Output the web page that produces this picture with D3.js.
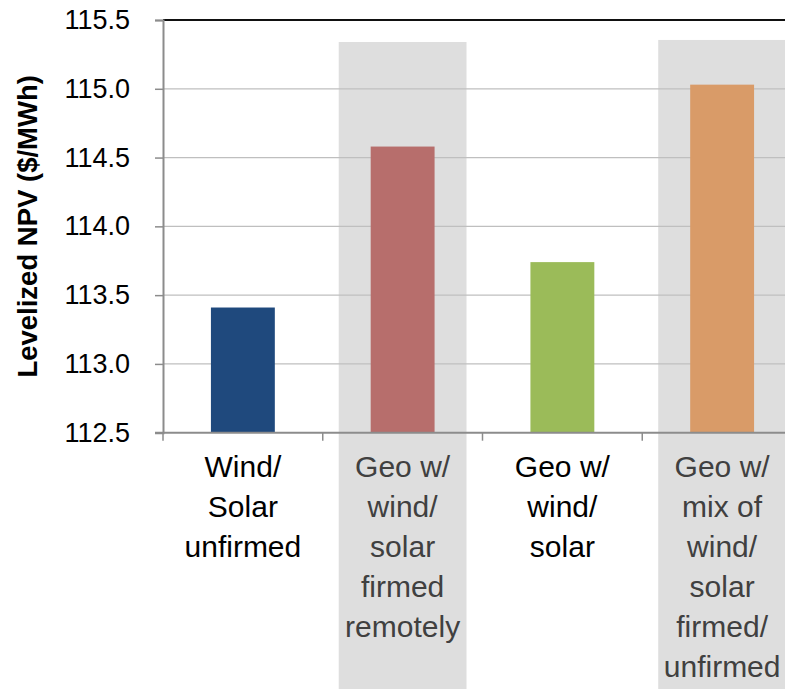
<!DOCTYPE html>
<html>
<head>
<meta charset="utf-8">
<script src="https://cdn.jsdelivr.net/npm/d3@7/dist/d3.min.js"></script>
<style>
  html, body { margin: 0; padding: 0; background: #fff; overflow: hidden; }
  svg { display: block; font-family: "Liberation Sans", Arial, sans-serif; }
</style>
</head>
<body>
<svg id="chart" width="785" height="689"></svg>
<script>
// Scenario categories, each label split into its printed lines
const categories = ["wind-solar-unfirmed", "geo-firmed-remotely", "geo-wind-solar", "geo-mix"];
const categoryLines = [
  ["Wind/", "Solar", "unfirmed"],
  ["Geo w/", "wind/", "solar", "firmed", "remotely"],
  ["Geo w/", "wind/", "solar"],
  ["Geo w/", "mix of", "wind/", "solar", "firmed/", "unfirmed"]
];
// Levelized NPV per scenario ($/MWh)
const npvValues = [113.41, 114.58, 113.74, 115.03];
const barColors = ["#1f497d", "#b76e6c", "#9bbb59", "#d99b68"];
// Shaded call-out panels behind the geothermal-firmed scenarios (top edge in $/MWh)
const highlighted = [false, true, false, true];
const highlightTops = [null, 115.34, null, 115.355];
const labelColors = ["#000000", "#404040", "#000000", "#404040"];
// Y axis ticks
const yTicks = [112.5, 113.0, 113.5, 114.0, 114.5, 115.0, 115.5];
const yTitle = "Levelized NPV ($/MWh)";

const W = 785, H = 689;
const svg = d3.select("#chart");

const x = d3.scaleBand().domain(categories).range([163, 802]).padding(0);
const y = d3.scaleLinear().domain([112.5, 115.5]).range([432.7, 20]);
const bw = x.bandwidth();

// shaded panels
svg.append("g").selectAll("rect")
  .data(categories.filter((c, i) => highlighted[i]))
  .join("rect")
  .attr("x", c => x(c) + bw * 0.1)
  .attr("width", bw * 0.8)
  .attr("y", c => y(highlightTops[categories.indexOf(c)]))
  .attr("height", c => H - y(highlightTops[categories.indexOf(c)]))
  .attr("fill", "#dedede");

// horizontal gridlines
svg.append("g").selectAll("line")
  .data(yTicks.filter(t => t > 112.5 && t < 115.5))
  .join("line")
  .attr("x1", 163).attr("x2", W)
  .attr("y1", d => y(d)).attr("y2", d => y(d))
  .attr("stroke", "#bfbfbf").attr("stroke-width", 1.2);

// bars
svg.append("g").selectAll("rect")
  .data(categories)
  .join("rect")
  .attr("x", c => x(c) + bw * 0.3)
  .attr("width", bw * 0.4)
  .attr("y", (c, i) => y(npvValues[i]))
  .attr("height", (c, i) => y(112.5) - y(npvValues[i]))
  .attr("fill", (c, i) => barColors[i]);

// top frame line
svg.append("line")
  .attr("x1", 163).attr("x2", W)
  .attr("y1", y(115.5)).attr("y2", y(115.5))
  .attr("stroke", "#111").attr("stroke-width", 2);

// left value axis
const yAxis = svg.append("g").attr("transform", "translate(163,0)")
  .call(d3.axisLeft(y).tickValues(yTicks).tickSize(8).tickPadding(25)
    .tickFormat(d3.format(".1f")));
yAxis.select(".domain").attr("stroke", "#8c8c8c").attr("stroke-width", 2);
yAxis.selectAll(".tick line").attr("stroke", "#8c8c8c").attr("stroke-width", 1.5);
yAxis.selectAll(".tick text")
  .attr("font-size", 27).attr("fill", "#000")
  .attr("font-family", "'Liberation Sans', Arial, sans-serif");

// bottom category axis with ticks at band boundaries
const bottom = svg.append("g");
bottom.append("line")
  .attr("x1", 155).attr("x2", W)
  .attr("y1", y(112.5)).attr("y2", y(112.5))
  .attr("stroke", "#8c8c8c").attr("stroke-width", 2);
bottom.selectAll("line.tk")
  .data(categories)
  .join("line").attr("class", "tk")
  .attr("x1", c => x(c)).attr("x2", c => x(c))
  .attr("y1", y(112.5)).attr("y2", y(112.5) + 8)
  .attr("stroke", "#8c8c8c").attr("stroke-width", 1.5);

// category labels
const labels = svg.append("g")
  .attr("font-size", 30)
  .attr("text-anchor", "middle");
categories.forEach((c, i) => {
  const t = labels.append("text")
    .attr("x", x(c) + bw / 2)
    .attr("y", 477)
    .attr("fill", labelColors[i]);
  categoryLines[i].forEach((line, j) => {
    t.append("tspan")
      .attr("x", x(c) + bw / 2)
      .attr("y", 477 + j * 40)
      .text(line);
  });
});

// y axis title
svg.append("text")
  .attr("transform", `translate(37,${(y(115.5) + y(112.5)) / 2 + 0}) rotate(-90)`)
  .attr("text-anchor", "middle")
  .attr("font-size", 27.5)
  .attr("font-weight", "bold")
  .attr("fill", "#000")
  .text(yTitle);
</script>
</body>
</html>
